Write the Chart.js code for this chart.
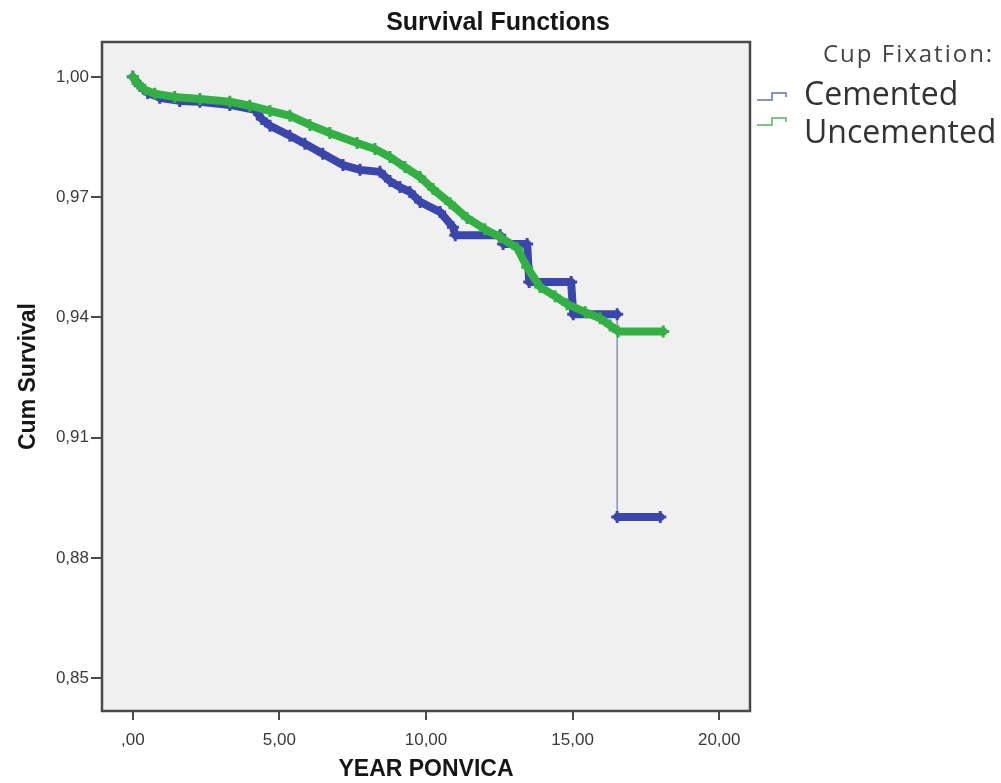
<!DOCTYPE html>
<html>
<head>
<meta charset="utf-8">
<title>Survival Functions</title>
<script src="https://cdn.jsdelivr.net/npm/chart.js@4"></script>
<style>
  html, body { margin: 0; padding: 0; background: #fff; }
  #wrap { width: 1001px; height: 783px; position: relative; }
</style>
</head>
<body>
<div id="wrap"><canvas id="survChart"></canvas></div>
<script>
// Kaplan-Meier estimates by cup fixation (years since surgery -> cumulative survival)
const cementedYears = [0, 0.24, 0.51, 0.92, 1.6, 2.29, 3.31, 4.16, 4.4, 4.68, 5.36, 5.87, 6.48, 7.17, 7.75, 8.43, 8.77, 9.11, 9.45, 9.8, 10.48, 10.92, 11.0, 12.53, 12.63, 13.45, 13.52, 14.95, 15.02, 16.52, 16.52, 17.99];
const cementedSurv  = [1.000, 0.9978, 0.996, 0.9948, 0.994, 0.9938, 0.993, 0.9918, 0.9895, 0.9878, 0.9853, 0.9833, 0.9808, 0.978, 0.9768, 0.9763, 0.974, 0.9725, 0.9713, 0.9688, 0.9663, 0.9625, 0.9605, 0.9605, 0.9583, 0.9583, 0.9488, 0.9488, 0.9408, 0.9408, 0.8902, 0.8902];

const uncementedYears = [0, 0.17, 0.41, 0.75, 1.43, 2.29, 3.31, 3.99, 4.68, 5.36, 6.04, 6.72, 7.65, 8.26, 8.77, 9.28, 9.8, 10.24, 10.82, 11.4, 12.01, 12.53, 13.11, 13.45, 13.89, 14.4, 14.81, 15.43, 15.94, 16.28, 16.55, 18.09];
const uncementedSurv  = [1.000, 0.9983, 0.9968, 0.9958, 0.995, 0.9945, 0.9938, 0.9928, 0.9915, 0.9903, 0.988, 0.986, 0.9835, 0.982, 0.980, 0.9775, 0.975, 0.972, 0.9685, 0.9648, 0.962, 0.960, 0.9573, 0.9525, 0.9476, 0.9453, 0.9433, 0.9413, 0.9398, 0.938, 0.9365, 0.9365];

const groupNames = ['Cemented', 'Uncemented'];
const groupColors = ['#3b46ad', '#33b044'];
const groupKeyColors = ['#6570b0', '#55b060'];

const xTicks = [0, 5, 10, 15, 20];
const xTickLabels = [',00', '5,00', '10,00', '15,00', '20,00'];
const yTicks = [0.85, 0.88, 0.91, 0.94, 0.97, 1.00];
const yTickLabels = ['0,85', '0,88', '0,91', '0,94', '0,97', '1,00'];

const toPoints = (xs, ys) => xs.map((x, i) => ({ x: x, y: ys[i] }));

// steep drops are drawn as a thin connector, like the SPSS plot
const bigDrop = c => Math.abs(c.p0.parsed.y - c.p1.parsed.y) > 0.02;

const frame = {
  id: 'frame',
  beforeDraw(chart) {
    const { ctx, chartArea: a } = chart;
    ctx.save();
    ctx.fillStyle = '#f0f0f0';
    ctx.fillRect(a.left, a.top, a.width, a.height);
    ctx.restore();
  },
  afterDraw(chart) {
    const { ctx, chartArea: a } = chart;
    ctx.save();
    ctx.strokeStyle = '#4a4a4a';
    ctx.lineWidth = 2.5;
    ctx.strokeRect(a.left, a.top, a.width, a.height);

    // chart title
    ctx.fillStyle = '#161616';
    ctx.font = "bold 25px 'Liberation Sans', Arial, sans-serif";
    ctx.textAlign = 'center';
    ctx.textBaseline = 'alphabetic';
    ctx.fillText('Survival Functions', 498, 30);

    // legend
    ctx.textAlign = 'left';
    ctx.fillStyle = '#444';
    ctx.font = "24px 'Open Sans', sans-serif";
    ctx.letterSpacing = '2px';
    ctx.fillText('Cup Fixation:', 823, 62);
    ctx.letterSpacing = '0px';
    ctx.font = "32px 'Open Sans', sans-serif";
    ctx.fillStyle = '#333';
    const textRows = [105, 143];
    const keyRows = [100, 125];
    chart.data.datasets.forEach((ds, i) => {
      ctx.fillText(ds.label, 804, textRows[i]);
      const low = keyRows[i];
      ctx.strokeStyle = groupKeyColors[i];
      ctx.lineWidth = 1.5;
      ctx.beginPath();
      ctx.moveTo(757, low);
      ctx.lineTo(772, low);
      ctx.lineTo(772, low - 7);
      ctx.lineTo(786, low - 7);
      ctx.lineTo(786, low - 3);
      ctx.stroke();
    });
    ctx.restore();
  }
};

const ctx = document.getElementById('survChart');

new Chart(ctx, {
  type: 'line',
  data: {
    datasets: [
      {
        label: groupNames[0],
        data: toPoints(cementedYears, cementedSurv),
        borderColor: groupColors[0],
        backgroundColor: groupColors[0],
        borderWidth: 8,
        pointStyle: 'cross',
        pointRadius: 6,
        pointBorderWidth: 3,
        order: 2,
        segment: {
          borderWidth: c => bigDrop(c) ? 1.5 : undefined,
          borderColor: c => bigDrop(c) ? '#8a90bd' : undefined
        }
      },
      {
        label: groupNames[1],
        data: toPoints(uncementedYears, uncementedSurv),
        borderColor: groupColors[1],
        backgroundColor: groupColors[1],
        borderWidth: 8,
        pointStyle: 'cross',
        pointRadius: 6,
        pointBorderWidth: 3,
        order: 1
      }
    ]
  },
  options: {
    responsive: true,
    maintainAspectRatio: false,
    animation: false,
    layout: {
      padding: { top: 42, right: 251, bottom: 0, left: 0 }
    },
    elements: {
      line: { tension: 0, borderJoinStyle: 'round', borderCapStyle: 'round' }
    },
    scales: {
      x: {
        type: 'linear',
        min: -1.05,
        max: 21.05,
        afterBuildTicks: s => { s.ticks = xTicks.map(v => ({ value: v })); },
        afterFit: s => { s.height = 72; },
        border: { display: false },
        grid: { drawOnChartArea: false, drawTicks: true, tickLength: 9, color: '#4a4a4a', lineWidth: 2 },
        ticks: {
          padding: 10,
          maxRotation: 0,
          color: '#3a3a3a',
          font: { family: "'Liberation Sans', Arial, sans-serif", size: 17 },
          callback: v => xTickLabels[xTicks.indexOf(v)]
        },
        title: {
          display: true,
          text: 'YEAR PONVICA',
          color: '#161616',
          padding: { top: 0, bottom: 0 },
          font: { family: "'Liberation Sans', Arial, sans-serif", size: 23, weight: 'bold' }
        }
      },
      y: {
        min: 0.8418,
        max: 1.0087,
        afterBuildTicks: s => { s.ticks = yTicks.map(v => ({ value: v })); },
        afterFit: s => { s.width = 102; },
        border: { display: false },
        grid: { drawOnChartArea: false, drawTicks: true, tickLength: 11, color: '#4a4a4a', lineWidth: 2 },
        ticks: {
          padding: 2,
          color: '#3a3a3a',
          font: { family: "'Liberation Sans', Arial, sans-serif", size: 17 },
          callback: v => yTickLabels[yTicks.findIndex(t => Math.abs(t - v) < 1e-6)]
        },
        title: {
          display: true,
          text: 'Cum Survival',
          color: '#161616',
          padding: { top: 15, bottom: 0 },
          font: { family: "'Liberation Sans', Arial, sans-serif", size: 23, weight: 'bold' }
        }
      }
    },
    plugins: {
      legend: { display: false },
      tooltip: { enabled: false }
    }
  },
  plugins: [frame]
});
</script>
</body>
</html>
